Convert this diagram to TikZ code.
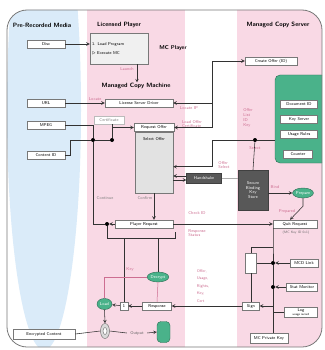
\documentclass[tikz,border=0pt]{standalone}
\usepackage{tikz}
\usetikzlibrary{shapes.geometric,positioning}
\definecolor{lanepink}{RGB}{249,217,229}
\definecolor{laneblue}{RGB}{218,235,249}
\definecolor{framegray}{RGB}{120,120,120}
\definecolor{wiregray}{RGB}{50,50,50}
\definecolor{keygreen}{RGB}{74,178,138}
\definecolor{darkfill}{RGB}{88,88,88}
\definecolor{offergray}{RGB}{226,226,226}
\definecolor{notepink}{RGB}{205,110,145}
\newcommand\boxfont{\fontsize{4.2}{4.8}\selectfont\sffamily}
\newcommand\laneheadfont{\fontsize{6.2}{7}\selectfont\sffamily\bfseries}

\begin{document}
\begin{tikzpicture}[x=1pt,y=-1pt,>=stealth,
  box/.style={draw=framegray,fill=white,line width=0.45pt,inner sep=0.6pt,font=\boxfont,minimum height=8pt},
  darkbox/.style={draw=black!75,fill=darkfill,text=white,font=\boxfont,inner sep=0.8pt},
  keynode/.style={ellipse,draw=keygreen!60!black,fill=keygreen,text=white,font=\boxfont,inner sep=0.3pt,minimum height=10pt,minimum width=20pt},
  note/.style={text=notepink,font=\boxfont,align=left,inner sep=0.5pt},
  lanehead/.style={font=\laneheadfont,inner sep=0.5pt},
  wire/.style={draw=wiregray,line width=0.55pt},
  joint/.style={circle,fill=black,inner sep=0pt,minimum size=4pt}]

  \useasboundingbox (0,0) rectangle (324,350);
  \begin{scope}
    \clip[rounded corners=20pt] (7,10) rectangle (322,347);
    \fill[white] (7,10) rectangle (322,347);
    \fill[laneblue] (44,110) ellipse [x radius=37pt, y radius=240pt];
    \fill[lanepink] (87,0) rectangle (185,350);
    \fill[lanepink] (237,0) rectangle (322,350);
    \node[draw=keygreen!60!black,fill=keygreen,rounded corners=5pt,minimum width=52pt,minimum height=88pt] (keystore) at (301,119) {};
  \end{scope}
  \draw[framegray,line width=0.8pt,rounded corners=20pt] (7,10) rectangle (322,347);

  \node[lanehead] (mediahead) at (42,25) {Pre-Recorded Media};
  \node[lanehead] (playerhead) at (119,25) {Licensed Player};
  \node[lanehead] (serverhead) at (278,25) {Managed Copy Server};

  % player and machine
  \node[box,minimum width=38pt] (disc) at (46,44) {Disc};
  \node[box,fill=black!6,minimum width=58pt,minimum height=31pt,align=left,text width=54pt] (player) at (119,48.5) {1. Load Program\\[4pt]\(\triangleright\) Execute MC};
  \node[lanehead,font=\fontsize{5.6}{6}\selectfont\sffamily\bfseries] (mcplayer) at (173,48) {MC Player};
  \node[lanehead] (machinehead) at (136,86) {Managed Copy Machine};
  \node[note] (launch) at (127,69) {Launch};
  \draw[wire,->] (disc.east) -- (disc.east -| player.west);
  \draw[wire,->] ([xshift=18pt]player.south) -- ([xshift=1pt]machinehead.north);

  \node[box,minimum width=38pt] (url) at (46,103) {URL};
  \node[box,minimum width=38pt] (mpeg) at (46,125) {MPEG};
  \node[box,minimum width=38pt] (cid) at (46,155) {Content ID};
  \node[box,minimum width=68pt] (lsd) at (139,103) {License Server Driver};
  \node[box,draw=framegray!50,text=black!50,minimum width=30pt] (cert) at (109,120) {Certificate};
  \node[box,minimum width=40pt] (reqoffer) at (154,127.5) {Request Offer};
  \node[box,fill=offergray,minimum width=38pt,minimum height=61pt,anchor=north] (selectoffer) at (154,132) {};
  \node[font=\boxfont] (offertitle) at (154,139) {Select Offer};
  \node[note] (locate) at (95,99) {Locate};

  \node[joint] (j1) at (93,140) {};
  \node[joint] (j2) at (112,140) {};
  \node[joint] (j3) at (107,224) {};
  \draw[wire,->] (url) -- (lsd);
  \draw[wire] (mpeg.east) -| (j1);
  \draw[wire] (cid.east) -- ++(5,0) |- (j1) -- (j2);
  \draw[wire,->] (j2) |- (reqoffer.west);
  \draw[wire] (j2) -- (j2 |- cert.south);

  % server side
  \coordinate (relay) at (212,61);
  \coordinate (relay2) at (212,140);
  \node[box,minimum width=52pt] (create) at (271,61) {Create Offer (ID)};
  \draw[wire,<->] (reqoffer.east) -| (relay) -- (create.west);
  \draw[wire,<-] (lsd.east) -- (lsd.east -| relay);
  \node[note] (locateip) at (189,108) {Locate IP};
  \node[note] (loadoffer) at (192,124) {Load Offer\\Certificate};

  \node[box,minimum width=37pt] (k1) at (299,104) {Document ID};
  \node[box,minimum width=37pt] (k2) at (299,119) {Key Server};
  \node[box,minimum width=37pt] (k3) at (299,134) {Usage Rules};
  \node[box,minimum width=29pt] (k4) at (298,154) {Counter};

  \node[joint] (j4) at (255,140) {};
  \node[note] (selectnote) at (255,148) {Select};
  \node[note] (offernote) at (248,118) {Offer\\List\\ID\\Key};
  \draw[wire] (keystore.west |- j4) -- (j4);
  \draw[wire,->] (j4) -- (relay2) |- ([yshift=-4pt]selectoffer.east);

  \node[darkbox,minimum width=35pt,minimum height=10pt] (proto) at (204,178) {Handshake};
  \node[darkbox,minimum width=30pt,minimum height=40pt,align=center] (secure) at (253,190) {Secure\\Binding\\Key\\Store};
  \draw[wire] (j4) -- (secure.north);
  \draw[wire,->] ([yshift=2pt]proto.west) -- ([yshift=2pt]proto.west -| selectoffer.east);
  \draw[wire,<-] ([yshift=-2pt]proto.west) -- ([yshift=-2pt]proto.west -| selectoffer.east);
  \draw[framegray!60,line width=0.8pt] (proto.east) -- (proto.east -| secure.west);
  \node[note] (bindnote) at (224,165) {Offer\\Select};

  \node[keynode] (prep) at (303,193) {Prepare};
  \node[note] (storenote) at (275,187) {Bind};
  \draw[wire,->] (secure.east |- prep) -- (prep);
  \node[box,minimum width=44pt] (quit) at (295,224) {Quit Request};
  \node[font=\fontsize{3.4}{4}\selectfont\sffamily,text=black!60] (quitnote) at (296,233) {(MC Key ID 0x1)};
  \node[note] (prepnote) at (287,211) {Prepared};
  \draw[wire,->] (prep.south) -- ++(0,8) -- ([xshift=-5pt]quit.north);

  % request / response path
  \node[box,minimum width=58pt] (preq) at (144,224) {Player Request};
  \node[font=\boxfont,text=black!50] (continue) at (105,198) {Continue};
  \node[font=\boxfont,text=black!50] (confirm) at (145,198) {Confirm};
  \draw[wire,->] (selectoffer.south) -- (selectoffer.south |- preq.north);
  \draw[wire] (j1) |- (j3);
  \draw[wire,->] (preq.west) -- (j3);
  \draw[wire,->] (preq.east) -- (quit.west);
  \draw[wire] (j3) |- (175,238) -- (175,232);
  \node[note] (querynote) at (197,213) {Check ID};
  \node[note] (replynote) at (197,233) {Response\\Status};

  \node[keynode] (dec) at (158,277) {Decrypt};
  \node[keynode,minimum width=15pt,minimum height=11pt] (load) at (104.5,304) {Load};
  \node[box,minimum width=8pt] (one) at (124,306) {1};
  \node[box,minimum width=29pt] (resp) at (157,306) {Response};
  \node[box,minimum width=17pt] (sign) at (251,306) {Sign};
  \draw[wire] (dec.north) -- ++(0,-33.5);
  \draw[wire] (one.north) -- ++(0,-64);
  \draw[notepink,line width=0.5pt] (dec.west) -| (load.north);
  \draw[notepink,line width=0.5pt] (dec.south) -- (resp.north);
  \node[note] (keynote) at (130,269) {Key};
  \node[note,font=\fontsize{4}{7.5}\selectfont\sffamily] (rightsnote) at (203,286) {Offer,\\Usage,\\Rights,\\Key,\\Cert};
  \draw[wire,->] (sign) -- (resp);
  \draw[wire,->] (resp) -- (one);
  \draw[wire,->] (one) -- (load);

  % server checks
  \node[box,minimum width=11pt,minimum height=20pt] (gate) at (251,263) {};
  \coordinate (tap) at (273,247);
  \node[joint] (j5) at (273,263) {};
  \node[joint] (j6) at (273,287) {};
  \node[box,minimum width=28pt] (ncd) at (304,263) {MCD Link};
  \node[box,minimum width=31pt] (stat) at (302,287) {Stat Monitor};
  \node[box,minimum width=33pt,minimum height=10pt,align=center] (log) at (301,312) {Log\\[-1pt]{\fontsize{3}{3.5}\selectfont usage record}};
  \node[box,minimum width=38pt,minimum height=10pt] (bind) at (269,338) {MC Private Key};
  \draw[wire] (gate.north) |- (tap);
  \draw[wire] (quit.south -| tap) -- (tap) -- (j5) -- (j6) -- (j6 |- bind.north);
  \draw[wire,->] (ncd) -- (j5);
  \draw[wire] (j5) -- (gate.east |- j5);
  \draw[wire,->] (stat) -- (j6);
  \draw[wire] (log.west) -- (log.west -| j6);
  \draw[wire] (gate.south) -- (sign.north);
  \draw[wire,->] (j6 |- sign) -- (sign.east);

  % output
  \node[box,minimum width=62pt,minimum height=10pt] (enc) at (44,334) {Encrypted Content};
  \node[ellipse,draw=black!60,fill=black!15,minimum width=9pt,minimum height=15pt,inner sep=0pt] (lock) at (105,331) {};
  \node[ellipse,draw=black!60,fill=white,minimum width=4pt,minimum height=7pt,inner sep=0pt] (lockcore) at (lock) {};
  \node[font=\boxfont,text=black!60] (outlabel) at (137,333) {Output};
  \node[draw=keygreen!60!black,fill=keygreen,rounded corners=4pt,minimum width=13pt,minimum height=21pt] (screen) at (163.5,332) {};
  \draw[wire] (enc.east) -- (lock.west);
  \draw[wire] (lock.east) -- (outlabel.west);
  \draw[wire,->] (outlabel.east) -- (screen.west);
  \draw[wire,->] (load.south) -- (lock.north);
\end{tikzpicture}
\end{document}
